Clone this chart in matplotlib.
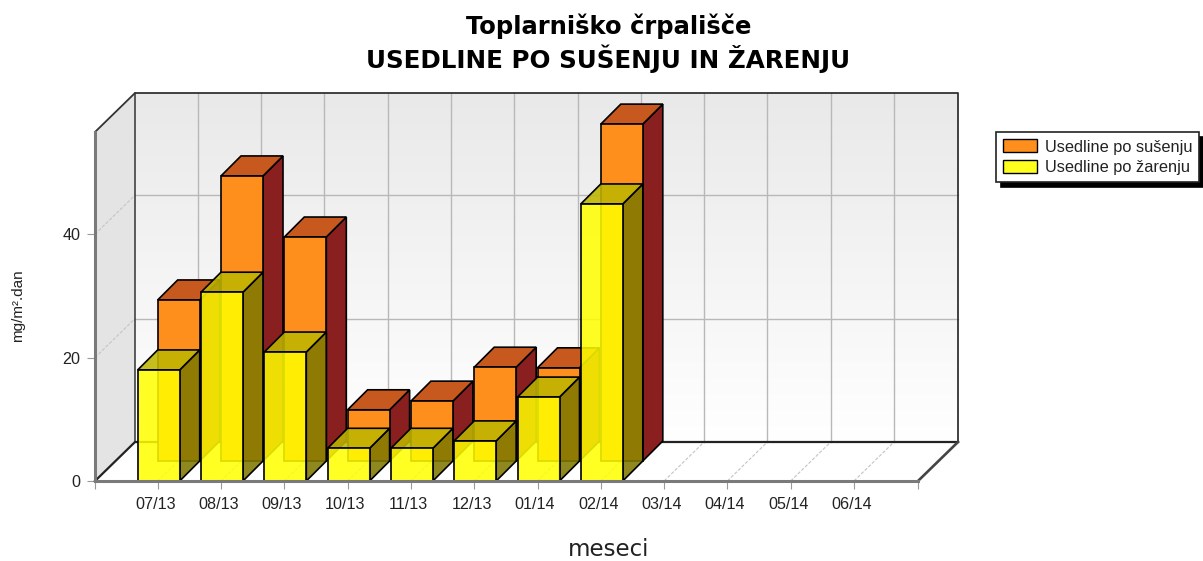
import numpy as np
import matplotlib
matplotlib.use("Agg")
import matplotlib.pyplot as plt
from matplotlib.patches import Polygon, Patch
from matplotlib.transforms import ScaledTranslation

months = ["07/13", "08/13", "09/13", "10/13", "11/13", "12/13",
          "01/14", "02/14", "03/14", "04/14", "05/14", "06/14"]
usedline_susenje = [26.1, 46.2, 36.3, 8.3, 9.7, 15.2, 15.1, 54.6]
usedline_zarenje = [18.0, 30.6, 20.9, 5.3, 5.3, 6.5, 13.6, 44.9]
y_ticks = [0, 20, 40]

W, H = 1203, 561
DPI = 100
L, R, T, B = 95, 918, 132, 481      # front plot box in pixels
STEP = 63.3                         # px per category
PXV = 6.17                          # px per value unit
DX, DY = 40 / STEP, 39 / PXV        # full depth in data units
BW = 42 / STEP                      # bar width
HX, HY = 20 / STEP, 20 / PXV        # bar depth

fig = plt.figure(figsize=(W / DPI, H / DPI), dpi=DPI, facecolor="white")
ax = fig.add_axes([L / W, 1 - B / H, (R - L) / W, (B - T) / H])
x0, x1 = (L - 157.7) / STEP, (R - 157.7) / STEP
y1 = (B - T) / PXV
ax.patch.set_visible(False)

def poly(pts, z, **kw):
    ax.add_patch(Polygon(pts, closed=True, clip_on=False, zorder=z, **kw))

# walls
grad = np.linspace(0, 1, 256).reshape(-1, 1)
im = ax.imshow(grad, cmap=matplotlib.colors.LinearSegmentedColormap.from_list("w", ["#e9e9e9", "#ffffff"]),
               extent=(x0 + DX, x1 + DX, DY, y1 + DY), origin="upper", aspect="auto",
               zorder=1, clip_on=False)
ax.set_xlim(x0, x1)
ax.set_ylim(0, y1)
poly([(x0, 0), (x0 + DX, DY), (x0 + DX, y1 + DY), (x0, y1)], 1, fc="#e4e4e4", ec="none")
poly([(x0, 0), (x1, 0), (x1 + DX, DY), (x0 + DX, DY)], 1, fc="white", ec="none")

# grid
for i in range(len(months)):
    ax.plot([i + DX, i + DX], [DY, y1 + DY], color="#b8b8b8", lw=1.0, zorder=2, clip_on=False)
    ax.plot([i, i + DX], [0, DY], color="#c4c4c4", lw=0.8, ls=(0, (3, 1.5)), zorder=2, clip_on=False)
for v in y_ticks[1:]:
    ax.plot([x0 + DX, x1 + DX], [v + DY, v + DY], color="#b8b8b8", lw=1.0, zorder=2, clip_on=False)
    ax.plot([x0, x0 + DX], [v, v + DY], color="#c4c4c4", lw=0.8, ls=(0, (3, 1.5)), zorder=2, clip_on=False)

# wall outlines
ax.plot([x0, x0 + DX, x1 + DX, x1 + DX], [y1, y1 + DY, y1 + DY, DY],
        color="#333333", lw=1.3, zorder=3, clip_on=False)
ax.plot([x0 + DX, x0 + DX], [y1 + DY, DY], color="#333333", lw=1.1, zorder=3, clip_on=False)
ax.plot([x0, x0 + DX, x1 + DX], [0, DY, DY], color="#222222", lw=1.6, zorder=3, clip_on=False)
ax.plot([x1, x1 + DX], [0, DY], color="#444444", lw=1.9, zorder=3, clip_on=False)

def bar3d(i, v, shift_x, shift_y, face, side, top, z):
    a = i + shift_x
    b = a + BW
    kw = dict(ec=(0, 0, 0, 1), lw=1.2, joinstyle="miter")
    poly([(b, shift_y), (b + HX, shift_y + HY), (b + HX, v + shift_y + HY), (b, v + shift_y)], z, fc=side, **kw)
    poly([(a, v + shift_y), (b, v + shift_y), (b + HX, v + shift_y + HY), (a + HX, v + shift_y + HY)], z, fc=top, **kw)
    poly([(a, shift_y), (b, shift_y), (b, v + shift_y), (a, v + shift_y)], z, fc=face, **kw)

for i, v in enumerate(usedline_susenje):
    bar3d(i, v, 0, HY, (1.0, 0.56, 0.11, 1), (0.54, 0.12, 0.12, 1), (0.78, 0.35, 0.12, 1), 4)
for i, v in enumerate(usedline_zarenje):
    bar3d(i, v, -HX, 0, (1.0, 1.0, 0.0, 0.86), (0.50, 0.47, 0.0, 0.88), (0.75, 0.71, 0.0, 0.88), 5)

# axes
for s in ("top", "right"):
    ax.spines[s].set_visible(False)
for s in ("left", "bottom"):
    ax.spines[s].set_color("#7a7a7a")
    ax.spines[s].set_linewidth(2.2)
    ax.spines[s].set_zorder(6)
tick_font = dict(family="Liberation Sans", size=11.6, color="#222222")
ax.set_xticks(range(len(months)))
ax.set_xticklabels(months, **tick_font)
ax.set_yticks(y_ticks)
ax.set_yticklabels([str(v) for v in y_ticks], **tick_font)
ax.set_xticks([x0, x1], minor=True)
ax.tick_params(axis="both", which="both", length=5.5, width=0.8, color="#9a9a9a", pad=5)
ax.tick_params(axis="x", which="major", pad=6)
shift = ScaledTranslation(-2.5 / DPI, 0, fig.dpi_scale_trans)
for lab in ax.get_xticklabels():
    lab.set_transform(lab.get_transform() + shift)

# text
fig.text(608.5 / W, 1 - 26.5 / H, "Toplarniško črpališče", ha="center", va="center",
         family="DejaVu Sans", weight="bold", fontsize=17.5, color="black")
fig.text(608.5 / W, 1 - 58.5 / H, "USEDLINE PO SUŠENJU IN ŽARENJU", ha="center", va="center",
         family="DejaVu Sans", weight="bold", fontsize=17.7, color="black")
fig.text(609 / W, 1 - 549 / H, "meseci", ha="center", va="center",
         family="DejaVu Sans", fontsize=16.5, color="#222222")
fig.text(18 / W, 1 - 306 / H, "mg/m².dan", ha="center", va="center", rotation=90,
         family="Liberation Sans", fontsize=11.0, color="#222222")

# legend
handles = [Patch(fc="#ff8f1c", ec="black", lw=1.0, label="Usedline po sušenju"),
           Patch(fc="#ffff1e", ec="black", lw=1.0, label="Usedline po žarenju")]
leg = fig.legend(handles=handles, loc="upper left", bbox_to_anchor=(996 / W, 1 - 132.5 / H),
                 borderaxespad=0, fancybox=False, framealpha=1, edgecolor="#222222",
                 prop=dict(family="Liberation Sans", size=11.8), labelcolor="#222222",
                 handlelength=2.1, handleheight=0.85, handletextpad=0.45, labelspacing=0.3,
                 borderpad=0.42, shadow=dict(color="black", alpha=1, ox=3.6, oy=-3.6))
leg.get_frame().set_linewidth(1.2)

fig.savefig("out.png", dpi=DPI)
